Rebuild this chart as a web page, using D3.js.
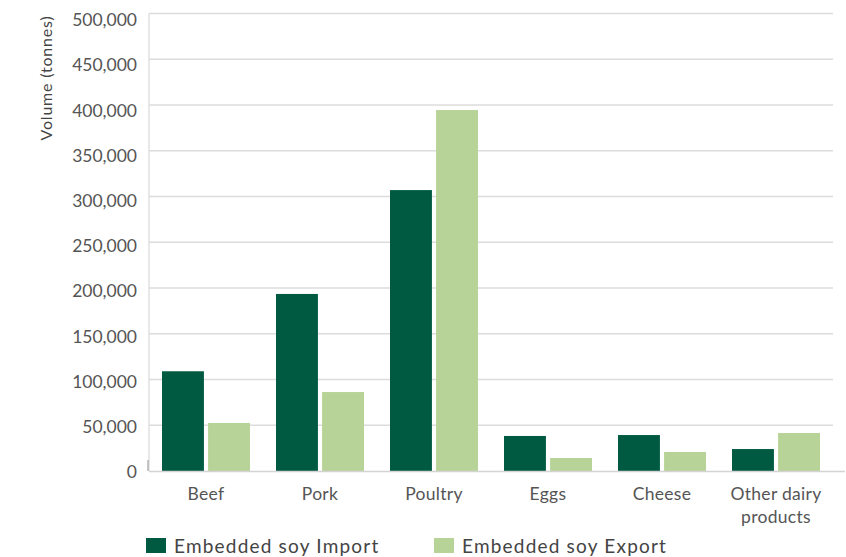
<!DOCTYPE html>
<html>
<head>
<meta charset="utf-8">
<script src="https://cdn.jsdelivr.net/npm/d3@7"></script>
<style>
  body { margin: 0; background: #fff; }
  text { font-family: Lato, "Open Sans", sans-serif; fill: #555; }
</style>
</head>
<body>
<div id="chart"></div>
<script>
// data
var categories = ["Beef", "Pork", "Poultry", "Eggs", "Cheese", "Other dairy products"];
var series = ["Embedded soy Import", "Embedded soy Export"];
var importVals = [109000, 193500, 307000, 38300, 39300, 24000];
var exportVals = [52500, 86300, 394500, 14200, 20800, 41500];
var yTicks = [0, 50000, 100000, 150000, 200000, 250000, 300000, 350000, 400000, 450000, 500000];
var colors = ["#005a42", "#b8d397"];

var width = 846, height = 557;
var margin = { top: 13.5, right: 13, bottom: 86, left: 149 };
var plotW = 833 - margin.left, plotH = 471 - margin.top;

var svg = d3.select("#chart").append("svg")
  .attr("width", width).attr("height", height);
var g = svg.append("g").attr("transform", "translate(" + margin.left + "," + margin.top + ")");

var x0 = d3.scaleBand().domain(categories).range([0, plotW])
  .paddingInner(0.228).paddingOuter(0.114);
var x1 = d3.scaleBand().domain(series).range([0, x0.bandwidth()]).paddingInner(0.09);
var y = d3.scaleLinear().domain([0, 500000]).range([plotH, 0]);
// the labels in the original sit a little lower than the gridlines near the top
var yLab = y.copy().range([plotH + 1, 6.5]);

// gridlines
g.selectAll(".grid").data(yTicks.slice(1)).enter().append("line")
  .attr("class", "grid")
  .attr("x1", 0).attr("x2", plotW)
  .attr("y1", function (d) { return y(d); }).attr("y2", function (d) { return y(d); })
  .attr("stroke", "#dcdcdc").attr("stroke-width", 1.3);

// left axis line
g.append("line").attr("x1", 0).attr("x2", 0).attr("y1", 0).attr("y2", plotH)
  .attr("stroke", "#dcdcdc").attr("stroke-width", 1.3);
g.append("line").attr("x1", -1).attr("x2", -1).attr("y1", plotH - 11).attr("y2", plotH)
  .attr("stroke", "#aaa").attr("stroke-width", 1.3);

// y axis labels
var yAxis = d3.axisLeft(yLab).tickValues(yTicks).tickSize(0).tickPadding(12)
  .tickFormat(d3.format(","));
var ya = g.append("g").call(yAxis);
ya.select(".domain").remove();
ya.selectAll("text").style("font-size", "17.5px").style("fill", "#555")
  .style("font-family", "Lato, sans-serif");

// bars
var rows = categories.map(function (c, i) {
  return { cat: c, vals: [importVals[i], exportVals[i]] };
});
var groups = g.selectAll(".grp").data(rows).enter().append("g")
  .attr("transform", function (d) { return "translate(" + x0(d.cat) + ",0)"; });
groups.selectAll("rect").data(function (d) {
  return d.vals.map(function (v, j) { return { s: series[j], v: v, j: j }; });
}).enter().append("rect")
  .attr("x", function (d) { return x1(d.s); })
  .attr("width", x1.bandwidth())
  .attr("y", function (d) { return y(d.v); })
  .attr("height", function (d) { return plotH - y(d.v); })
  .attr("fill", function (d) { return colors[d.j]; });

// baseline
g.append("line").attr("x1", 0).attr("x2", 696).attr("y1", plotH + 0.5).attr("y2", plotH + 0.5)
  .attr("stroke", "#d4d4d4").attr("stroke-width", 1.5);

// x axis labels
var xa = g.append("g").attr("transform", "translate(0," + plotH + ")");
xa.selectAll("text").data(categories).enter().append("text")
  .attr("y", 29)
  .attr("text-anchor", "middle")
  .style("font-size", "17.5px")
  .style("letter-spacing", "0.3px")
  .each(function (d) {
    var t = d3.select(this);
    var lines = d === "Other dairy products" ? ["Other dairy", "products"] : [d];
    lines.forEach(function (l, k) {
      t.append("tspan").attr("x", x0(d) + x0.bandwidth() / 2).attr("dy", k ? 23 : 0).text(l);
    });
  });

// y title
svg.append("text")
  .attr("transform", "translate(52,78) rotate(-90)")
  .attr("text-anchor", "middle")
  .style("font-size", "16px")
  .style("letter-spacing", "0.8px")
  .style("fill", "#444")
  .text("Volume (tonnes)");

// legend
var legX = [146, 434];
var leg = svg.selectAll(".leg").data(series).enter().append("g")
  .attr("transform", function (d, i) { return "translate(" + legX[i] + ",538)"; });
leg.append("rect").attr("width", 20).attr("height", 15)
  .attr("fill", function (d, i) { return colors[i]; });
leg.append("text").attr("x", 28).attr("y", 14.5)
  .style("font-size", "19px").style("letter-spacing", "1.2px").style("fill", "#444")
  .text(function (d) { return d; });
</script>
</body>
</html>
